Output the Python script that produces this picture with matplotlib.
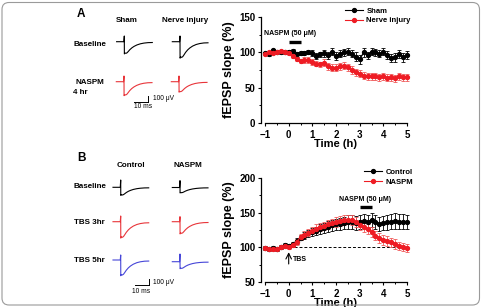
import matplotlib
matplotlib.use("Agg")
import matplotlib.pyplot as plt
import numpy as np
from matplotlib.lines import Line2D
from matplotlib.patches import FancyBboxPatch
from matplotlib.transforms import IdentityTransform
from matplotlib.ticker import MultipleLocator

plt.rcParams['font.family'] = ['Liberation Sans', 'DejaVu Sans']
plt.rcParams['font.weight'] = 'bold'

# ---------------- data ----------------
# sample times (h), one point every 10 min from -1 h to 5 h
minutes = np.arange(-60, 301, 10)
time_h = minutes / 60.0

# A: NASPM on sham vs nerve injury
sham_mean = [99, 97, 103, 100, 101, 100, 100, 102, 97, 99, 99, 100, 99, 95, 97, 99, 96, 101, 95,
             98, 100, 101, 98, 94, 90, 100, 96, 101, 100, 98, 101, 96, 92, 93, 98, 93, 96]
sham_sem = [2, 2, 2, 2, 2, 2, 3, 3, 3, 3, 3, 3, 4, 4, 4, 5, 5, 5, 6, 5, 5, 5, 5, 6, 6, 6, 5,
            5, 5, 5, 5, 6, 6, 6, 6, 6, 6]
injury_mean = [98, 100, 99, 101, 102, 100, 99, 95, 91, 88, 89, 89, 86, 84, 83, 85, 80, 78, 78,
               80, 81, 79, 75, 72, 70, 67, 66, 66, 66, 65, 66, 64, 65, 63, 66, 65, 65]
injury_sem = [2, 2, 2, 2, 2, 2, 3, 3, 3, 3, 4, 4, 4, 4, 4, 5, 5, 5, 5, 5, 5, 5, 5, 5, 5, 5, 5,
              5, 5, 5, 5, 5, 5, 5, 5, 5, 5]

# B: TBS-LTP, control vs NASPM applied at 3 h
control_mean = [99, 98, 99, 97, 101, 103, 102, 105, 109, 114, 117, 120, 122, 124, 126, 128, 130,
                132, 133, 134, 135, 136, 136, 135, 136, 138, 137, 139, 136, 134, 135, 136, 137,
                138, 137, 137, 136]
control_sem = [3, 3, 3, 3, 3, 3, 3, 3, 4, 4, 5, 5, 6, 6, 7, 7, 8, 8, 8, 9, 9, 10, 10, 10, 10,
               10, 10, 10, 10, 10, 10, 11, 11, 11, 11, 11, 10]
naspm_mean = [99, 97, 98, 97, 100, 102, 101, 104, 108, 115, 118, 121, 124, 127, 129, 131, 133,
              135, 137, 138, 139, 140, 139, 137, 132, 129, 126, 122, 117, 113, 111, 109, 107,
              105, 102, 100, 99]
naspm_sem = [3, 3, 3, 3, 3, 3, 3, 4, 4, 4, 5, 5, 5, 6, 6, 6, 6, 6, 7, 7, 7, 7, 7, 7, 7, 7, 7,
             7, 7, 7, 7, 7, 7, 7, 6, 6, 6]

naspm_a = (0.0, 0.5)     # drug application in A (h)
naspm_b = (3.0, 3.5)     # drug application in B (h)
baseline_pct = 100

# fEPSP waveform template: time (ms) vs voltage (fraction of peak)
wave_t = [-5.5, -0.3, 0.0, 0.05, 0.4, 1.2, 2.0, 3.0, 4.0, 5.5, 7.0, 9.0, 11.5, 14.0, 17.0, 20.0]
wave_v = [0.0, 0.0, 0.45, -1.05, -0.97, -1.0, -0.95, -0.82, -0.68, -0.52, -0.4, -0.28, -0.18,
          -0.12, -0.08, -0.07]

# peak amplitude (uV) and stimulus artifact height (uV) of each example trace
a_depth = {'sham_base': 204, 'inj_base': 275, 'sham_naspm': 233, 'inj_naspm': 175}
a_art = {'sham_base': 100, 'inj_base': 100, 'sham_naspm': 100, 'inj_naspm': 100}
b_depth = {'ctl_base': 135, 'nas_base': 91, 'ctl_3': 274, 'nas_3': 204, 'ctl_5': 263, 'nas_5': 117}
b_art = {'ctl_base': 128, 'nas_base': 120, 'ctl_3': 100, 'nas_3': 88, 'ctl_5': 88, 'nas_5': 135}

# ---------------- figure ----------------
W, H = 482, 307
fig = plt.figure(figsize=(W / 100, H / 100), dpi=100)

def fx(px):
    return px / W

def fy(py):
    return 1 - py / H

# rounded frame around the whole figure
frame = FancyBboxPatch((2, 2), W - 4.5, H - 4.5, boxstyle="round,pad=0,rounding_size=7",
                       transform=IdentityTransform(), facecolor='none', edgecolor='#9a9a9a',
                       linewidth=0.8)
fig.patches.append(frame)

RED = '#ee1c24'
RED_ERR = '#f05a5a'
TRACE_RED = '#e8353a'
TRACE_BLUE = '#4646d8'

PX_MS = 1.4      # pixels per ms in the trace insets
PX_UV = 0.057    # pixels per uV


def trace_axes(x_art, y_base):
    ax = fig.add_axes([fx(x_art - 10 * PX_MS), fy(y_base + 400 * PX_UV),
                       40 * PX_MS / W, 600 * PX_UV / H])
    ax.set_xlim(-10, 30)
    ax.set_ylim(-400, 200)
    ax.axis('off')
    return ax


def draw_trace(x_art, y_base, depth, art, color):
    ax = trace_axes(x_art, y_base)
    v = np.array(wave_v) * depth
    v[2] = art
    ax.plot(wave_t, v, color=color, lw=0.8, clip_on=False)


def scale_bar(x_c, y_c):
    ax = trace_axes(x_c, y_c)
    ax.plot([-10, 0], [0, 0], color='k', lw=0.7, clip_on=False)
    ax.plot([0, 0], [0, 100], color='k', lw=0.7, clip_on=False)


def style_axes(ax, ylim, yticks):
    ax.set_xlim(-1.17, 5.1)
    ax.set_ylim(*ylim)
    ax.set_xticks([-1, 0, 1, 2, 3, 4, 5])
    ax.set_yticks(yticks)
    ax.xaxis.set_minor_locator(MultipleLocator(0.5))
    ax.yaxis.set_minor_locator(MultipleLocator(25))
    ax.spines['top'].set_visible(False)
    ax.spines['right'].set_visible(False)
    ax.spines['bottom'].set_bounds(-1, 5)
    for s in ('left', 'bottom'):
        ax.spines[s].set_linewidth(0.9)
    ax.tick_params(which='major', direction='out', length=2.5, width=0.8, labelsize=7, pad=1.5)
    ax.tick_params(which='minor', direction='out', length=1.5, width=0.7)
    ax.tick_params(axis='x', pad=2.5)
    for lab in ax.get_xticklabels() + ax.get_yticklabels():
        lab.set_fontweight('bold')
    ax.set_xlabel('Time (h)', fontsize=8, fontweight='bold', labelpad=-1)
    ax.set_ylabel('fEPSP slope (%)', fontsize=9, fontweight='bold', labelpad=3)


def series(ax, mean, sem, color, ecolor):
    ax.errorbar(time_h, mean, yerr=sem, fmt='o-', color=color, ecolor=ecolor, ms=2.8,
                lw=0.8, elinewidth=0.6, capsize=1.3, capthick=0.6, clip_on=False)


def legend(ax, labels, colors, anchor):
    handles = [Line2D([0], [0], color=c, marker='o', ms=2.8, lw=0.8) for c in colors]
    ax.legend(handles, labels, loc='upper left', bbox_to_anchor=anchor, frameon=False,
              fontsize=5.5, handlelength=2.4, handletextpad=0.4, labelspacing=0.3,
              borderpad=0, borderaxespad=0, prop={'weight': 'bold', 'size': 5.5})


# ---------------- panel A ----------------
axA = fig.add_axes([fx(261), fy(123), 148.4 / W, 106 / H])
style_axes(axA, (0, 150), [0, 50, 100, 150])
series(axA, sham_mean, sham_sem, 'k', 'k')
series(axA, injury_mean, injury_sem, RED, RED_ERR)
axA.hlines(114, naspm_a[0], naspm_a[1], color='k', lw=2.4)
axA.text(np.mean(naspm_a) - 0.2, 121, 'NASPM (50 μM)', fontsize=5, ha='center', va='bottom')
legend(axA, ['Sham', 'Nerve injury'], ['k', RED], (0.566, 1.09))

fig.text(fx(77), fy(14), 'A', fontsize=8.5, fontweight='bold', va='center')
fig.text(fx(127), fy(20), 'Sham', fontsize=5.8, ha='center', va='center')
fig.text(fx(185), fy(20), 'Nerve injury', fontsize=5.8, ha='center', va='center')
fig.text(fx(74), fy(45), 'Baseline', fontsize=5.8, va='center')
fig.text(fx(75), fy(82), 'NASPM', fontsize=5.8, va='center')
fig.text(fx(73), fy(92), '4 hr', fontsize=5.8, va='center')

draw_trace(124.3, 41.7, a_depth['sham_base'], a_art['sham_base'], 'k')
draw_trace(180, 41.7, a_depth['inj_base'], a_art['inj_base'], 'k')
draw_trace(124, 81.7, a_depth['sham_naspm'], a_art['sham_naspm'], TRACE_RED)
draw_trace(179, 81.7, a_depth['inj_naspm'], a_art['inj_naspm'], TRACE_RED)
scale_bar(148.3, 101.7)
fig.text(fx(153), fy(99), '100 μV', fontsize=4.8, fontweight='normal', va='center')
fig.text(fx(143), fy(107), '10 ms', fontsize=4.8, fontweight='normal', ha='center', va='center')

# ---------------- panel B ----------------
axB = fig.add_axes([fx(261), fy(282), 148.4 / W, 104 / H])
style_axes(axB, (50, 200), [50, 100, 150, 200])
axB.hlines(baseline_pct, time_h[0], time_h[-1], color='k', lw=0.7, linestyles=(0, (3, 2)))
series(axB, control_mean, control_sem, 'k', 'k')
series(axB, naspm_mean, naspm_sem, RED, RED_ERR)
axB.hlines(158.5, naspm_b[0], naspm_b[1], color='k', lw=2.4)
axB.text(np.mean(naspm_b) - 0.02, 164, 'NASPM (50 μM)', fontsize=5, ha='center', va='bottom')
axB.annotate('', xy=(0, 93), xytext=(0, 76),
             arrowprops=dict(arrowstyle='->', color='k', lw=0.8, shrinkA=0, shrinkB=0))
axB.text(0.2, 83, 'TBS', fontsize=5, va='center')
legend(axB, ['Control', 'NASPM'], ['k', RED], (0.695, 1.09))

fig.text(fx(77), fy(158), 'B', fontsize=8.5, fontweight='bold', va='center')
fig.text(fx(131.3), fy(165.7), 'Control', fontsize=5.8, ha='center', va='center')
fig.text(fx(188), fy(165.7), 'NASPM', fontsize=5.8, ha='center', va='center')
fig.text(fx(74), fy(186.7), 'Baseline', fontsize=5.8, va='center')
fig.text(fx(74), fy(222.7), 'TBS 3hr', fontsize=5.8, va='center')
fig.text(fx(74), fy(260), 'TBS 5hr', fontsize=5.8, va='center')

draw_trace(120.7, 187.3, b_depth['ctl_base'], b_art['ctl_base'], 'k')
draw_trace(180, 187.5, b_depth['nas_base'], b_art['nas_base'], 'k')
draw_trace(120.7, 221.7, b_depth['ctl_3'], b_art['ctl_3'], TRACE_RED)
draw_trace(180, 221.7, b_depth['nas_3'], b_art['nas_3'], TRACE_RED)
draw_trace(120.7, 260, b_depth['ctl_5'], b_art['ctl_5'], TRACE_BLUE)
draw_trace(180, 261.7, b_depth['nas_5'], b_art['nas_5'], TRACE_BLUE)
scale_bar(149.3, 285)
fig.text(fx(153), fy(282.3), '100 μV', fontsize=4.8, fontweight='normal', va='center')
fig.text(fx(141), fy(291.7), '10 ms', fontsize=4.8, fontweight='normal', ha='center', va='center')

fig.savefig('out.png', dpi=100)
